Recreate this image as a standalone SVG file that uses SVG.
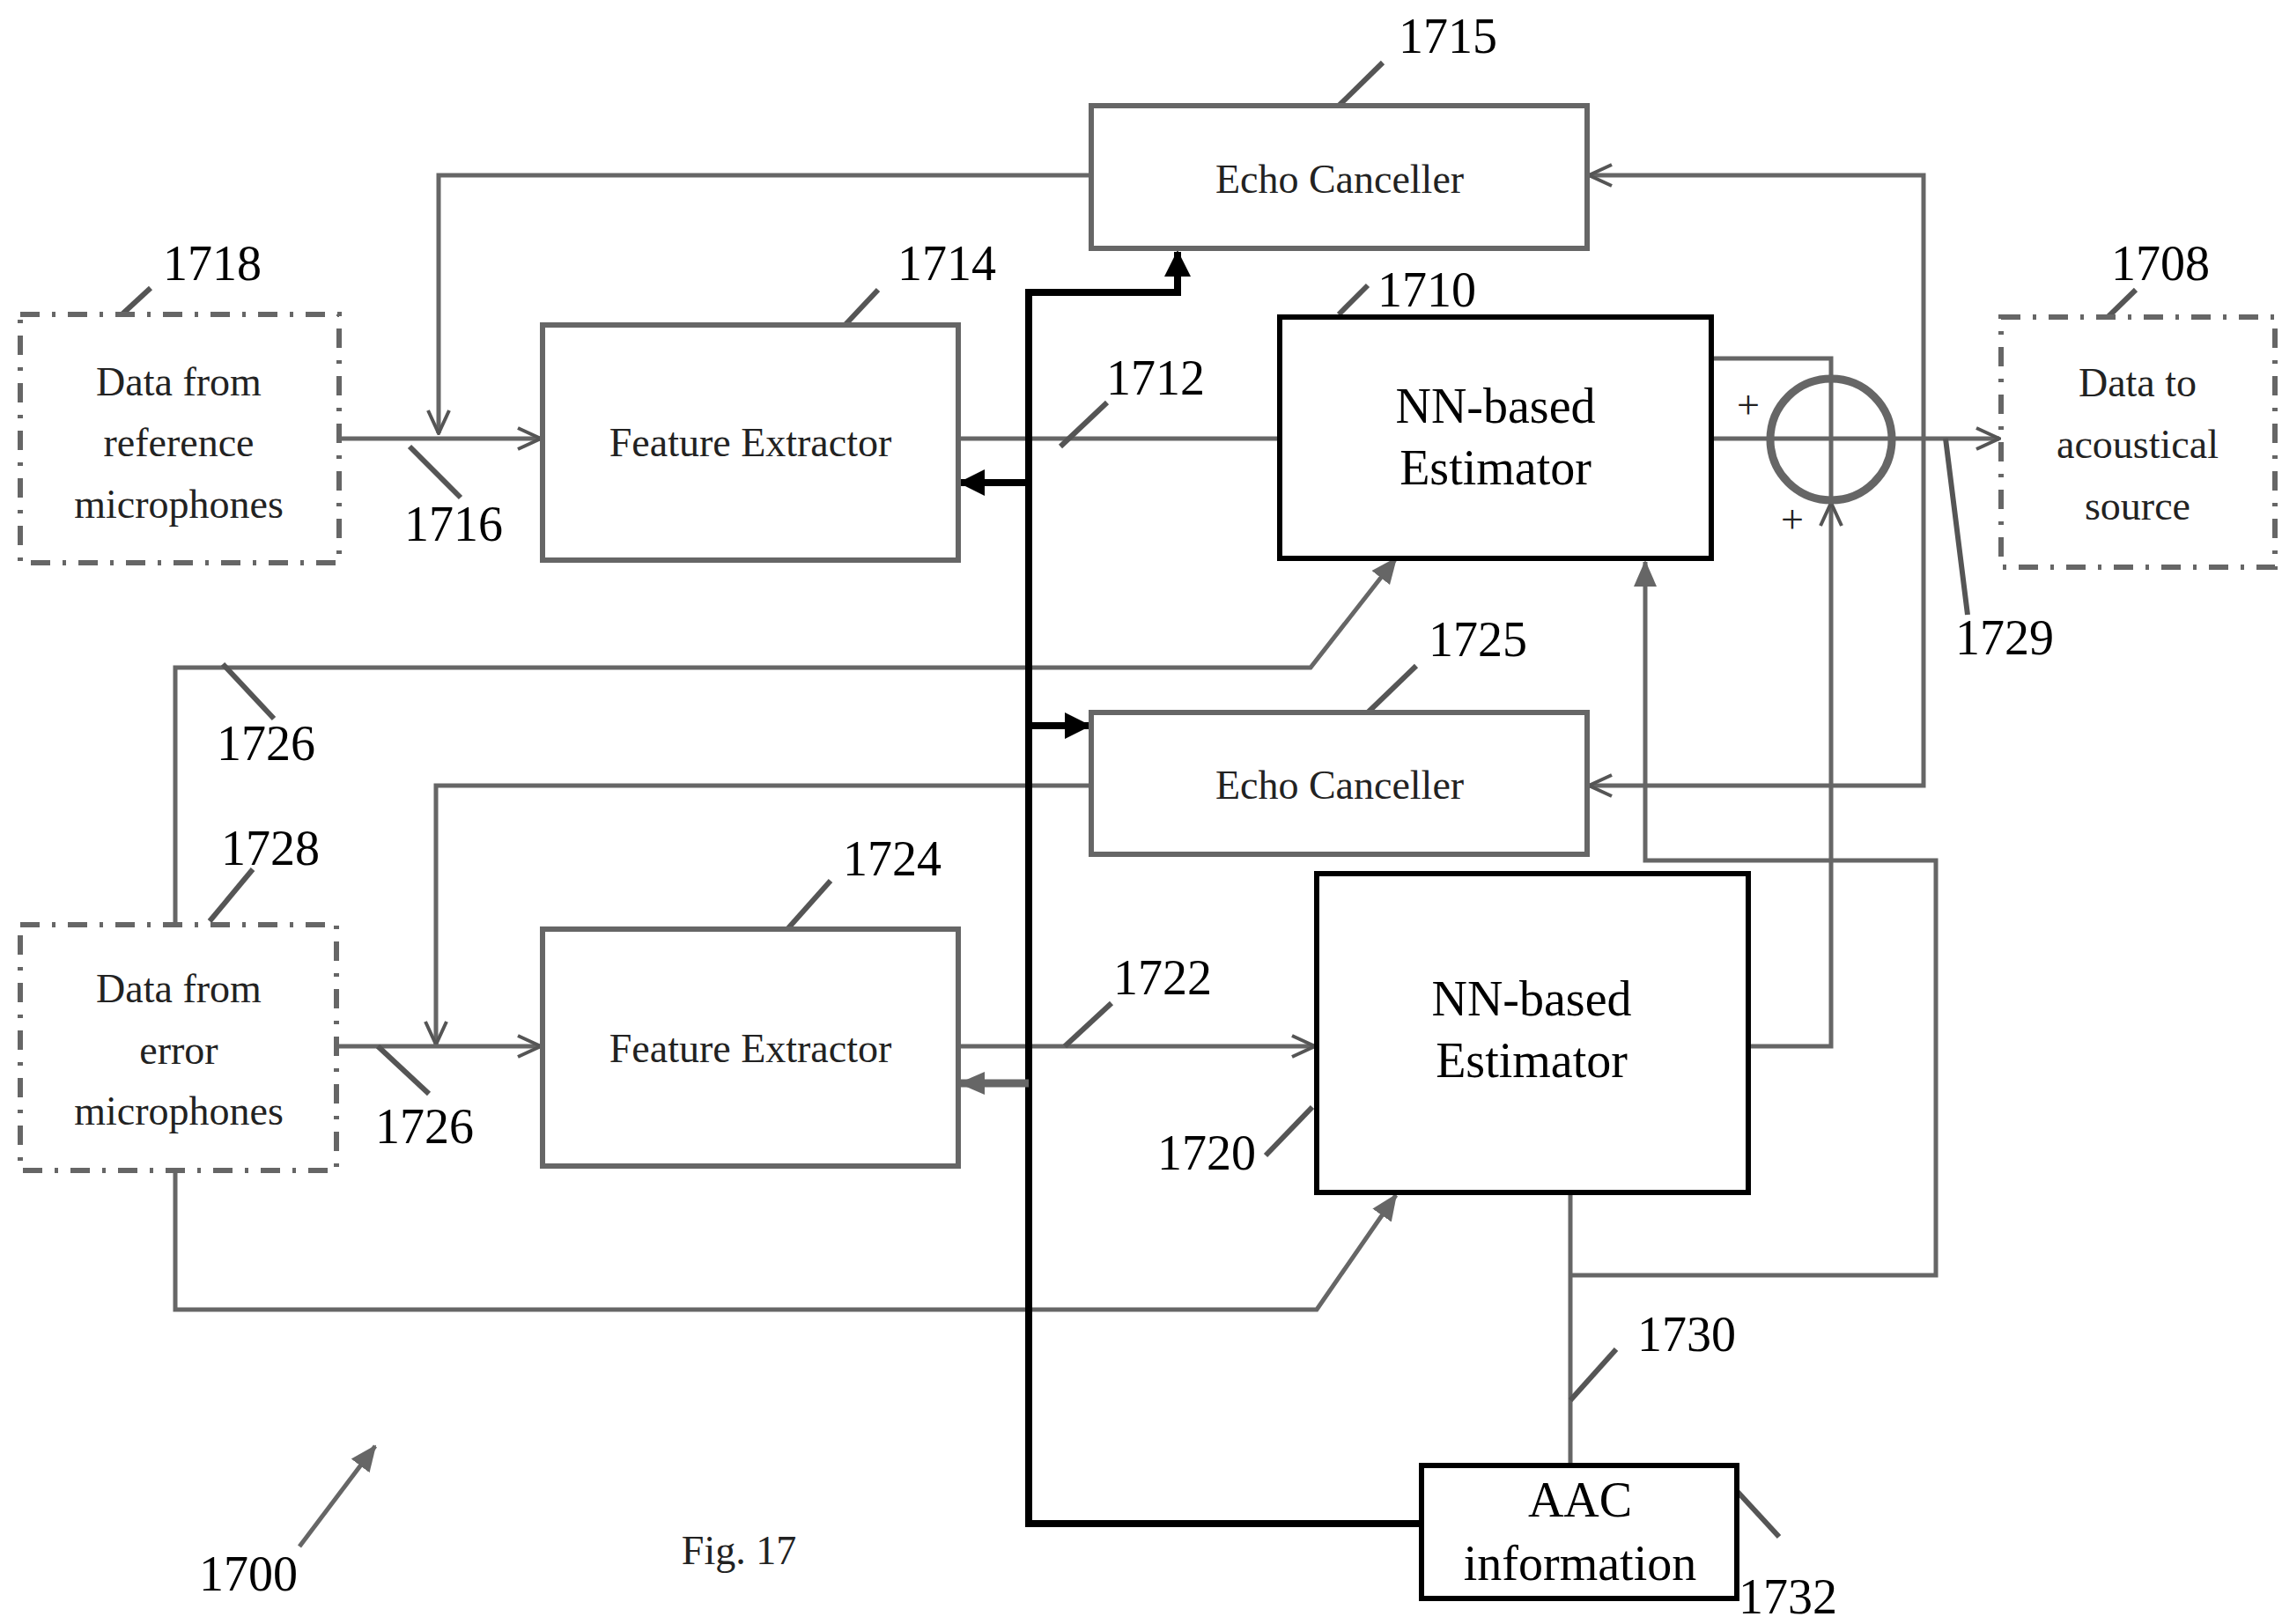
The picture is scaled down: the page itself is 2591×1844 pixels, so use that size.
<svg xmlns="http://www.w3.org/2000/svg" width="2591" height="1844" viewBox="0 0 2591 1844">
<style>
text{font-family:"Liberation Serif","Times New Roman",serif;fill:#000;text-anchor:middle}
.num{font-size:56px}
.box{font-size:46px;fill:#222}
.big{font-size:56px}
.g{fill:none;stroke:#666;stroke-width:5}
.gb{fill:#fff;stroke:#666;stroke-width:6}
.k{fill:#fff;stroke:#000;stroke-width:6}
.d{fill:#fff;stroke:#666;stroke-width:6;stroke-dasharray:22 14 4 14}
.ld{fill:none;stroke:#555;stroke-width:6}
.bus{fill:none;stroke:#000;stroke-width:8}
</style>
<defs>
<marker id="ch" viewBox="0 0 20 20" refX="18" refY="10" markerWidth="20" markerHeight="20" markerUnits="userSpaceOnUse" orient="auto"><path d="M2,2 L18,10 L2,18" fill="none" stroke="#555" stroke-width="4"/></marker>
<marker id="ch2" viewBox="0 0 30 30" refX="28" refY="15" markerWidth="30" markerHeight="30" markerUnits="userSpaceOnUse" orient="auto"><path d="M2,3 L28,15 L2,27" fill="none" stroke="#555" stroke-width="4"/></marker>
<marker id="kf" viewBox="0 0 30 30" refX="28" refY="15" markerWidth="30" markerHeight="30" markerUnits="userSpaceOnUse" orient="auto"><path d="M0,0 L30,15 L0,30 Z" fill="#000"/></marker>
<marker id="gf" viewBox="0 0 30 30" refX="28" refY="15" markerWidth="30" markerHeight="30" markerUnits="userSpaceOnUse" orient="auto"><path d="M0,2 L30,15 L0,28 Z" fill="#666"/></marker>
</defs>
<g id="connectors">
<polyline class="g" points="385,498 614,498" marker-end="url(#ch2)"/>
<polyline class="g" points="1239,199 498,199 498,492" marker-end="url(#ch2)"/>
<polyline class="g" points="1088,498 1453,498"/>
<polyline class="g" points="1943,498 2270,498" marker-end="url(#ch2)"/>
<polyline class="g" points="1943,407 2079,407 2079,569"/>
<polyline class="g" points="1985,1188 2079,1188 2079,571" marker-end="url(#ch2)"/>
<polyline class="g" points="2184,498 2184,199 1804,199" marker-end="url(#ch2)"/>
<polyline class="g" points="2184,498 2184,892 1804,892" marker-end="url(#ch2)"/>
<polyline class="g" points="199,1050 199,758 1488,758 1585,634" marker-end="url(#gf)"/>
<polyline class="g" points="1239,892 495,892 495,1186" marker-end="url(#ch2)"/>
<polyline class="g" points="382,1188 614,1188" marker-end="url(#ch2)"/>
<polyline class="g" points="1088,1188 1493,1188" marker-end="url(#ch2)"/>
<polyline class="g" points="199,1329 199,1487 1495,1487 1585,1357" marker-end="url(#gf)"/>
<polyline class="g" points="1783,1354 1783,1664"/>
<polyline class="g" points="1783,1448 2198,1448 2198,977 1868,977 1868,638" marker-end="url(#gf)"/>
<polyline class="bus" points="1614,1730 1168,1730 1168,332 1337,332 1337,286" marker-end="url(#kf)"/>
<polyline class="bus" points="1168,548 1090,548" marker-end="url(#kf)"/>
<polyline class="bus" points="1168,824 1237,824" marker-end="url(#kf)"/>
<polyline class="g" style="stroke-width:9" points="1168,1230 1090,1230" marker-end="url(#gf)"/>
<line class="g" x1="340" y1="1756" x2="426" y2="1642" marker-end="url(#gf)"/>
</g>
<g id="leaders">
<line class="ld" x1="1520" y1="120" x2="1570" y2="71"/>
<line class="ld" x1="133" y1="362" x2="171" y2="327"/>
<line class="ld" x1="950" y1="379" x2="997" y2="329"/>
<line class="ld" x1="1520" y1="357" x2="1553" y2="324"/>
<line class="ld" x1="2384" y1="369" x2="2425" y2="329"/>
<line class="ld" x1="2209" y1="498" x2="2234" y2="698"/>
<line class="ld" x1="1204" y1="507" x2="1257" y2="457"/>
<line class="ld" x1="465" y1="507" x2="523" y2="565"/>
<line class="ld" x1="1553" y1="809" x2="1608" y2="756"/>
<line class="ld" x1="253" y1="754" x2="311" y2="816"/>
<line class="ld" x1="238" y1="1046" x2="287" y2="987"/>
<line class="ld" x1="894" y1="1055" x2="943" y2="1000"/>
<line class="ld" x1="429" y1="1188" x2="487" y2="1242"/>
<line class="ld" x1="1209" y1="1188" x2="1262" y2="1139"/>
<line class="ld" x1="1437" y1="1312" x2="1490" y2="1257"/>
<line class="ld" x1="1783" y1="1590" x2="1835" y2="1532"/>
<line class="ld" x1="1973" y1="1694" x2="2020" y2="1745"/>
</g>
<g id="n1715"><rect class="gb" x="1239" y="120" width="563" height="162"/><text class="box" x="1521" y="219">Echo Canceller</text><text class="num" x="1644" y="60">1715</text></g>
<g id="n1718"><rect class="d" x="23" y="357" width="362" height="282"/><text class="box" x="203" y="449">Data from</text><text class="box" x="203" y="518">reference</text><text class="box" x="203" y="588">microphones</text><text class="num" x="241" y="318">1718</text></g>
<g id="n1714"><rect class="gb" x="616" y="369" width="472" height="267"/><text class="box" x="852" y="518">Feature Extractor</text><text class="num" x="1075" y="318">1714</text></g>
<g id="n1710"><rect class="k" x="1453" y="360" width="490" height="274"/><text class="big" x="1698" y="480">NN-based</text><text class="big" x="1698" y="550">Estimator</text><text class="num" x="1620" y="348">1710</text></g>
<g id="sum"><circle cx="2079" cy="499" r="69" fill="none" stroke="#666" stroke-width="9"/><text class="box" x="1985" y="475">+</text><text class="box" x="2035" y="605">+</text></g>
<g id="n1708"><rect class="d" x="2272" y="360" width="311" height="284"/><text class="box" x="2427" y="450">Data to</text><text class="box" x="2427" y="520">acoustical</text><text class="box" x="2427" y="590">source</text><text class="num" x="2453" y="318">1708</text></g>
<g id="labels"><text class="num" x="2276" y="743">1729</text><text class="num" x="1312" y="448">1712</text><text class="num" x="515" y="614">1716</text><text class="num" x="302" y="863">1726</text><text class="num" x="482" y="1298">1726</text><text class="num" x="1320" y="1129">1722</text><text class="num" x="1370" y="1328">1720</text><text class="num" x="1915" y="1534">1730</text><text class="num" x="2030" y="1832">1732</text><text class="num" x="282" y="1806">1700</text><text class="box" x="839" y="1776">Fig. 17</text></g>
<g id="n1725"><rect class="gb" x="1239" y="809" width="563" height="161"/><text class="box" x="1521" y="907">Echo Canceller</text><text class="num" x="1678" y="745">1725</text></g>
<g id="n1728"><rect class="d" x="23" y="1050" width="359" height="279"/><text class="box" x="203" y="1138">Data from</text><text class="box" x="203" y="1208">error</text><text class="box" x="203" y="1277">microphones</text><text class="num" x="307" y="982">1728</text></g>
<g id="n1724"><rect class="gb" x="616" y="1055" width="472" height="269"/><text class="box" x="852" y="1206">Feature Extractor</text><text class="num" x="1013" y="994">1724</text></g>
<g id="n1720"><rect class="k" x="1495" y="992" width="490" height="362"/><text class="big" x="1739" y="1153">NN-based</text><text class="big" x="1739" y="1223">Estimator</text></g>
<g id="n1732"><rect class="k" x="1614" y="1664" width="358" height="151"/><text class="big" x="1794" y="1722">AAC</text><text class="big" x="1794" y="1794">information</text></g>
</svg>
